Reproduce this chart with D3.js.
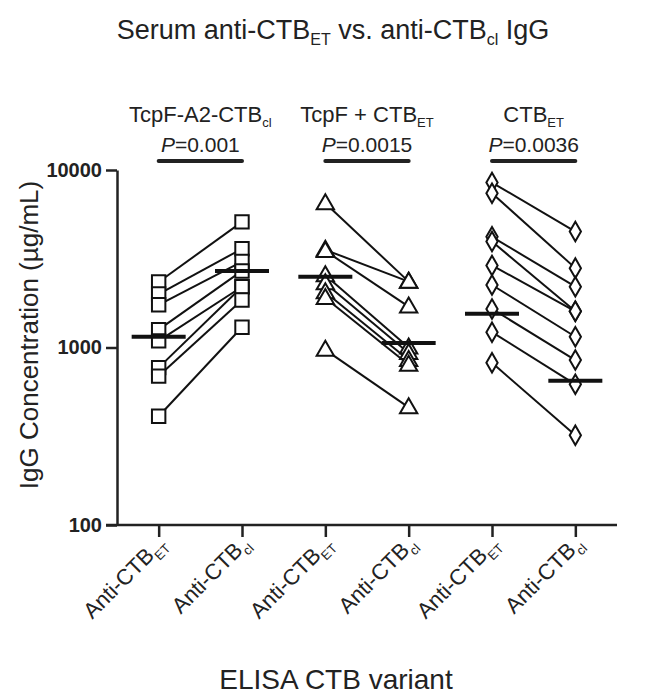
<!DOCTYPE html>
<html><head><meta charset="utf-8">
<script src="https://cdn.jsdelivr.net/npm/d3@7"></script>
<style>body{margin:0;background:#fff}text{font-family:"Liberation Sans",Arial,sans-serif;fill:#222}</style>
</head><body><svg id="c" width="661" height="697"></svg>
<script>
const categories = ["G1_ET","G1_cl","G2_ET","G2_cl","G3_ET","G3_cl"];
const tickSubs = ["ET","cl","ET","cl","ET","cl"];
const groups = [
  {name:"TcpF-A2-CTB", sub:"cl", p:"0.001", shape:"square"},
  {name:"TcpF + CTB", sub:"ET", p:"0.0015", shape:"triangle"},
  {name:"CTB", sub:"ET", p:"0.0036", shape:"diamond"}
];
// paired values (anti-CTB_ET, anti-CTB_cl)
const g1ET = [2340, 2000, 1740, 1260, 1090, 770, 690, 410];
const g1cl = [5100, 3600, 3050, 2700, 2200, 2200, 1850, 1300];
const g2ET = [6500, 3550, 3500, 2550, 2300, 2050, 1900, 970];
const g2cl = [2350, 2350, 1700, 1000, 930, 850, 800, 460];
const g3ET = [8500, 7400, 4200, 3950, 2900, 2250, 1650, 1220, 820];
const g3cl = [4500, 2800, 2200, 1600, 1600, 1150, 850, 620, 320];
const means = [1150, 2700, 2500, 1060, 1550, 650];
const yTicks = [100, 1000, 10000];

const pairs = [[g1ET,g1cl],[g2ET,g2cl],[g3ET,g3cl]];
const svg = d3.select("#c");
const x = d3.scalePoint().domain(categories).range([117, 617]).padding(0.5);
const y = d3.scaleLog().domain([100, 10000]).range([525, 170]);

// title
const t = svg.append("text").attr("x", 333).attr("y", 39).attr("text-anchor","middle").style("font-size","27px");
t.append("tspan").text("Serum anti-CTB");
t.append("tspan").text("ET").style("font-size","16px").attr("dy",6);
t.append("tspan").text(" vs. anti-CTB").attr("dy",-6);
t.append("tspan").text("cl").style("font-size","16px").attr("dy",6);
t.append("tspan").text(" IgG").attr("dy",-6);

// y axis
const ya = svg.append("g").attr("transform","translate(117,0)")
  .call(d3.axisLeft(y).tickValues(yTicks).tickFormat(d3.format("d")).tickSize(11).tickSizeOuter(0));
ya.select(".domain").attr("stroke","#222").attr("stroke-width",2.5);
ya.selectAll(".tick line").attr("stroke","#222").attr("stroke-width",2.5);
ya.selectAll(".tick text").style("font-size","20px").style("font-weight","bold").attr("x",-15).style("fill","#222");

svg.append("text").attr("transform","translate(38,335) rotate(-90)").attr("text-anchor","middle")
  .style("font-size","26px").text("IgG Concentration (µg/mL)");

// x axis
const xa = svg.append("g").attr("transform","translate(0,525)")
  .call(d3.axisBottom(x).tickSize(12).tickSizeOuter(0).tickFormat(""));
xa.select(".domain").attr("d","M106,0H617").attr("stroke","#222").attr("stroke-width",2.5);
xa.selectAll(".tick line").attr("stroke","#222").attr("stroke-width",2.5);
xa.selectAll(".tick").each(function(d,i){
  const tx = d3.select(this).append("text").attr("transform","translate(8,20) rotate(-45)")
    .attr("text-anchor","end").style("font-size","22px").style("fill","#222");
  tx.append("tspan").text("Anti-CTB");
  tx.append("tspan").text(tickSubs[i]).style("font-size","13px").attr("dy",6);
});
svg.append("text").attr("x",336).attr("y",689).attr("text-anchor","middle").style("font-size","28px").text("ELISA CTB variant");

// group labels, p values, bars
groups.forEach((g,gi)=>{
  const x0 = x(categories[gi*2]), x1 = x(categories[gi*2+1]), cx=(x0+x1)/2;
  const lb = svg.append("text").attr("x",cx).attr("y",122).attr("text-anchor","middle").style("font-size","22px");
  lb.append("tspan").text(g.name);
  lb.append("tspan").text(g.sub).style("font-size","13px").attr("dy",5);
  const pt = svg.append("text").attr("x",cx).attr("y",152).attr("text-anchor","middle").style("font-size","21px");
  pt.append("tspan").text("P").style("font-style","italic");
  pt.append("tspan").text("=" + g.p);
  svg.append("line").attr("x1",x0).attr("x2",x1).attr("y1",161).attr("y2",161)
    .attr("stroke","#222").attr("stroke-width",4).attr("stroke-linecap","round");
});

// paired lines
pairs.forEach((pr,gi)=>{
  const x0 = x(categories[gi*2]), x1 = x(categories[gi*2+1]);
  pr[0].forEach((v,i)=>{
    svg.append("line").attr("x1",x0).attr("y1",y(v)).attr("x2",x1).attr("y2",y(pr[1][i]))
      .attr("stroke","#111").attr("stroke-width",2);
  });
});

// markers
const shapes = {square:d3.symbolSquare, triangle:d3.symbolTriangle, diamond:d3.symbolDiamond};
const sizes = {square:180, triangle:130, diamond:110};
pairs.forEach((pr,gi)=>{
  const g = groups[gi];
  const sym = d3.symbol().type(shapes[g.shape]).size(sizes[g.shape]);
  [0,1].forEach(k=>{
    const xx = x(categories[gi*2+k]);
    pr[k].forEach(v=>{
      const dyy = g.shape==="triangle" ? 1 : 0;
      svg.append("path").attr("d",sym()).attr("transform",`translate(${xx},${y(v)+dyy})`)
        .attr("fill","#fff").attr("stroke","#111").attr("stroke-width",2);
    });
  });
});

// mean bars
means.forEach((m,i)=>{
  const xx = x(categories[i]);
  svg.append("line").attr("x1",xx-27).attr("x2",xx+27).attr("y1",y(m)).attr("y2",y(m))
    .attr("stroke","#111").attr("stroke-width",4);
});
</script></body></html>
